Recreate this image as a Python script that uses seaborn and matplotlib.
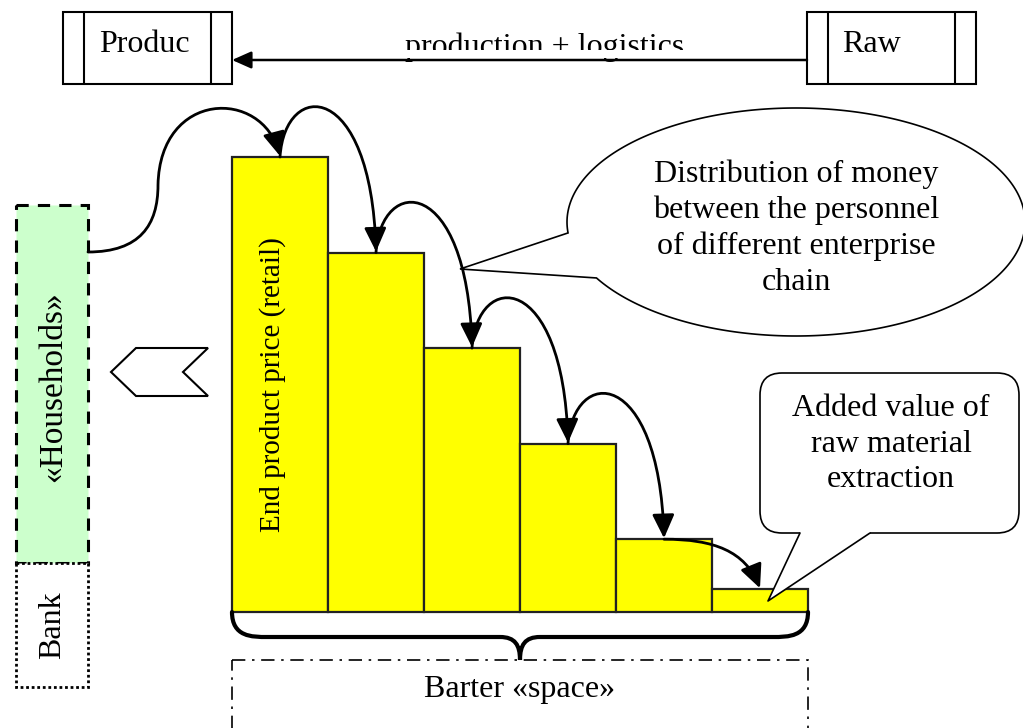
import numpy as np
import matplotlib
matplotlib.use("Agg")
import matplotlib.pyplot as plt
from matplotlib.patches import Rectangle, Polygon, FancyArrowPatch, FancyBboxPatch, PathPatch
from matplotlib.path import Path
import seaborn as sns

# -----------------------------
# DATA
# -----------------------------
stages = ["retail", "stage 2", "stage 3", "stage 4", "stage 5", "extraction"]
price_share = [100, 79, 58, 37, 16, 5]

bar_label = "End product price (retail)"
top_left_label = "Produc"
top_right_label = "Raw"
flow_label = "production + logistics"
households_label = "«Households»"
bank_label = "Bank"
barter_label = "Barter «space»"
ellipse_text = "Distribution of money\nbetween the personnel\nof different enterprise\nchain"
box_text = "Added value of\nraw material\nextraction"

# -----------------------------
# STYLE
# -----------------------------
sns.set_theme(style="white")
plt.rcParams["font.family"] = ["Liberation Serif", "DejaVu Serif"]
plt.rcParams["text.color"] = "black"
FS = 23
W, H = 1023, 728

fig = plt.figure(figsize=(W / 100, H / 100), dpi=100)

# -----------------------------
# BARS
# -----------------------------
axb = fig.add_axes([232 / W, (H - 612) / H, 576 / W, 455 / H])
sns.barplot(x=stages, y=price_share, color="#ffff00", saturation=1, width=1,
            edgecolor="#222222", linewidth=1.6, ax=axb)
for p in axb.patches:
    p.set_clip_on(False)
axb.set_xlim(-0.5, len(stages) - 0.5)
axb.set_ylim(0, 100)
axb.axis("off")

# overlay in pixel coords
ax = fig.add_axes([0, 0, 1, 1], zorder=3)
ax.set_xlim(0, W)
ax.set_ylim(H, 0)
ax.axis("off")
ax.patch.set_alpha(0)


def to_px(x, y):
    p = axb.transData.transform((x, y))
    return ax.transData.inverted().transform(p)


tops = [to_px(i, v) for i, v in enumerate(price_share)]
left_edge = to_px(-0.5, 0)
right_edge = to_px(len(stages) - 0.5, 0)

# text inside first bar
ax.text(tops[0][0] - 7, 385, bar_label, rotation=90, ha="center", va="center", fontsize=21)

# -----------------------------
# ARROWS BETWEEN BARS
# -----------------------------
def curve_arrow(pts):
    codes = [Path.MOVETO] + [Path.CURVE4] * (len(pts) - 1)
    arr = FancyArrowPatch(path=Path(pts, codes),
                          arrowstyle="-|>,head_length=0.9,head_width=0.42",
                          mutation_scale=16, lw=2, color="black", zorder=4,
                          shrinkA=0, shrinkB=0)
    ax.add_patch(arr)


# from households to first bar
x1, y1 = tops[0]
curve_arrow([(88, 252), (140, 252), (158, 225), (158, 185),
             (160, 90), (262, 88), (x1, y1 - 1)])

for i in range(len(tops) - 2):
    x0, y0 = tops[i]
    x1, y1 = tops[i + 1]
    curve_arrow([(x0, y0), (x0 + 5, y0 - 78), (x1 - 5, y0 - 78), (x1, y1 - 1)])

x0, y0 = tops[-2]
x1, y1 = tops[-1]
curve_arrow([(x0, y0), (x0 + 50, y0), (x1 - 15, y0 + 12), (x1, y1 - 1)])

# -----------------------------
# TOP BOXES
# -----------------------------
for bx, label, tx in [(63, top_left_label, 144), (807, top_right_label, 871)]:
    ax.add_patch(Rectangle((bx, 12), 169, 72, fill=False, lw=1.5, ec="black"))
    ax.plot([bx + 21, bx + 21], [12, 84], color="black", lw=1.5)
    ax.plot([bx + 148, bx + 148], [12, 84], color="black", lw=1.5)
    ax.text(tx, 52, label, ha="center", va="baseline", fontsize=FS)

ax.text(545, 55, flow_label, ha="center", va="baseline", fontsize=FS, zorder=1)
ax.add_patch(Rectangle((380, 50), 340, 8, fc="white", ec="none", zorder=2))
ax.add_patch(FancyArrowPatch((807, 60), (232, 60),
                             arrowstyle="-|>,head_length=0.9,head_width=0.4",
                             mutation_scale=13, lw=1.8, color="black", zorder=3,
                             shrinkA=0, shrinkB=0))

# -----------------------------
# HOUSEHOLDS / BANK
# -----------------------------
ax.add_patch(Rectangle((16, 205), 72, 358, fc="#ccffcc", ec="black", lw=2.2, ls=(0, (4, 3))))
ax.text(53, 387, households_label, rotation=90, ha="center", va="center", fontsize=24)
ax.add_patch(Rectangle((16, 563), 72, 124, fc="white", ec="black", lw=2, ls=(0, (1, 1))))
ax.text(53, 625, bank_label, rotation=90, ha="center", va="center", fontsize=FS)

# chevron pointing left
ax.add_patch(Polygon([(111, 372), (136, 348), (208, 348), (183, 372), (208, 396), (136, 396)],
                     closed=True, fc="white", ec="black", lw=1.5))

# -----------------------------
# CALLOUTS
# -----------------------------
cx, cy, a, b = 796, 222, 229, 114
t = np.radians(np.linspace(174.5, 150.6 + 360, 300))
ell = np.column_stack([cx + a * np.cos(t), cy + b * np.sin(t)])
ell = np.vstack([ell, [(460, 269)]])
ax.add_patch(Polygon(ell, closed=True, fc="white", ec="black", lw=1.2, zorder=5))
ax.text(cx, 228, ellipse_text, ha="center", va="center", fontsize=FS,
        linespacing=1.3, zorder=6)

ax.add_patch(FancyBboxPatch((760, 373), 259, 160, boxstyle="round,pad=0,rounding_size=22",
                            fc="white", ec="black", lw=1.2, zorder=5))
ax.add_patch(Polygon([(800, 533), (768, 601), (870, 533), (870, 527), (800, 527)],
                     closed=True, fc="white", ec="none", zorder=5))
ax.plot([800, 768, 870], [533, 601, 533], color="black", lw=1.2, zorder=5)
ax.text(891, 444, box_text, ha="center", va="center", fontsize=FS,
        linespacing=1.3, zorder=6)

# -----------------------------
# BRACE + BARTER BOX
# -----------------------------
lx, rx = left_edge[0], right_edge[0]
by = left_edge[1]
mx = (lx + rx) / 2
brace = [(lx, by), (lx, by + 25), (lx + 20, by + 25), (lx + 35, by + 25),
         (mx - 20, by + 25),
         (mx - 5, by + 25), (mx, by + 33), (mx, by + 48),
         (mx, by + 33), (mx + 5, by + 25), (mx + 20, by + 25),
         (rx - 35, by + 25),
         (rx - 20, by + 25), (rx, by + 25), (rx, by)]
codes = [Path.MOVETO, Path.CURVE4, Path.CURVE4, Path.CURVE4, Path.LINETO,
         Path.CURVE4, Path.CURVE4, Path.CURVE4, Path.CURVE4, Path.CURVE4, Path.CURVE4,
         Path.LINETO, Path.CURVE4, Path.CURVE4, Path.CURVE4]
ax.add_patch(PathPatch(Path(brace, codes), fill=False, lw=3, ec="black", capstyle="round"))

ax.add_patch(Rectangle((lx, by + 48), rx - lx, 100, fill=False, ec="black", lw=1.2,
                       ls=(0, (8, 4, 1.5, 4))))
ax.text(mx, 690, barter_label, ha="center", va="center", fontsize=FS)

fig.savefig("out.png", dpi=100)
